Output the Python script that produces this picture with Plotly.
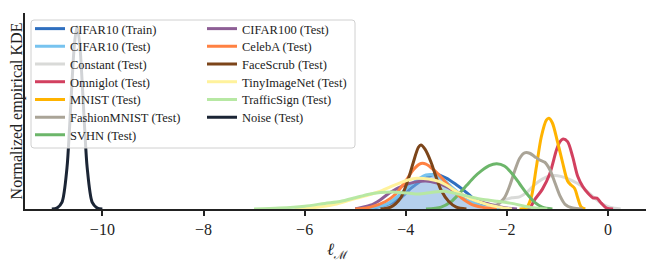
import plotly.graph_objects as go

# ---- data (y normalised so the tallest peak ~ 1) ----
cifar10_train_x = [-5.0, -4.6, -4.3, -4.1, -3.9, -3.7, -3.5, -3.42, -3.2, -3.0, -2.85, -2.7, -2.5, -2.3, -2.0]
cifar10_train_y = [0.0, 0.008, 0.03, 0.06, 0.11, 0.15, 0.18, 0.187, 0.165, 0.13, 0.10, 0.065, 0.025, 0.006, 0.0]

cifar10_test_x = [-5.0, -4.6, -4.35, -4.15, -3.95, -3.75, -3.6, -3.45, -3.3, -3.1, -2.9, -2.7, -2.5, -2.3, -2.0]
cifar10_test_y = [0.0, 0.01, 0.03, 0.07, 0.12, 0.16, 0.182, 0.183, 0.165, 0.12, 0.075, 0.04, 0.015, 0.004, 0.0]

constant_x = [-2.5, -2.3, -2.1, -1.9, -1.75, -1.6, -1.45, -1.3, -1.15, -1.0, -0.85, -0.7, -0.55, -0.4, -0.25, -0.1, 0.05, 0.25]
constant_y = [0.0, 0.02, 0.045, 0.06, 0.065, 0.09, 0.13, 0.16, 0.176, 0.178, 0.168, 0.15, 0.128, 0.09, 0.055, 0.025, 0.008, 0.0]

omniglot_x = [-1.65, -1.55, -1.45, -1.3, -1.15, -1.02, -0.95, -0.89, -0.8, -0.7, -0.6, -0.5, -0.4, -0.3, -0.22, -0.13, -0.03, 0.1]
omniglot_y = [0.0, 0.005, 0.05, 0.105, 0.19, 0.315, 0.36, 0.374, 0.36, 0.28, 0.175, 0.12, 0.085, 0.06, 0.058, 0.03, 0.005, 0.0]

mnist_x = [-1.75, -1.62, -1.52, -1.42, -1.32, -1.22, -1.17, -1.1, -1.0, -0.9, -0.8, -0.73, -0.66, -0.6, -0.53, -0.45]
mnist_y = [0.0, 0.005, 0.06, 0.22, 0.385, 0.475, 0.485, 0.46, 0.36, 0.25, 0.15, 0.128, 0.11, 0.06, 0.01, 0.0]

fashion_x = [-2.4, -2.2, -2.05, -1.95, -1.85, -1.75, -1.65, -1.55, -1.45, -1.35, -1.25, -1.15, -1.05, -0.95, -0.85, -0.7, -0.5]
fashion_y = [0.0, 0.02, 0.06, 0.12, 0.2, 0.27, 0.3, 0.298, 0.28, 0.262, 0.25, 0.21, 0.14, 0.07, 0.025, 0.005, 0.0]

svhn_x = [-3.6, -3.3, -3.1, -2.95, -2.8, -2.65, -2.5, -2.35, -2.2, -2.05, -1.9, -1.75, -1.6, -1.45, -1.3, -1.1]
svhn_y = [0.0, 0.01, 0.04, 0.08, 0.125, 0.17, 0.205, 0.232, 0.242, 0.23, 0.19, 0.135, 0.08, 0.035, 0.01, 0.0]

cifar100_x = [-5.0, -4.7, -4.5, -4.3, -4.0, -3.8, -3.6, -3.4, -3.2, -3.0, -2.8, -2.6, -2.4, -2.2, -2.0, -1.8]
cifar100_y = [0.0, 0.02, 0.05, 0.09, 0.13, 0.145, 0.15, 0.14, 0.12, 0.09, 0.065, 0.045, 0.03, 0.015, 0.005, 0.0]

celeba_x = [-5.0, -4.7, -4.4, -4.2, -4.0, -3.85, -3.7, -3.6, -3.45, -3.3, -3.1, -2.9, -2.7, -2.5, -2.2]
celeba_y = [0.0, 0.01, 0.04, 0.08, 0.15, 0.21, 0.243, 0.24, 0.21, 0.17, 0.11, 0.06, 0.025, 0.01, 0.0]

facescrub_x = [-4.5, -4.3, -4.1, -3.95, -3.85, -3.75, -3.7, -3.62, -3.5, -3.4, -3.3, -3.15, -3.0, -2.8]
facescrub_y = [0.0, 0.01, 0.06, 0.16, 0.25, 0.33, 0.342, 0.32, 0.25, 0.17, 0.10, 0.04, 0.01, 0.0]

tinyimagenet_x = [-6.2, -5.8, -5.4, -5.1, -4.8, -4.5, -4.2, -3.95, -3.78, -3.55, -3.33, -3.15, -3.0, -2.8, -2.65, -2.4, -2.15, -1.9]
tinyimagenet_y = [0.0, 0.008, 0.025, 0.048, 0.07, 0.095, 0.13, 0.155, 0.164, 0.16, 0.146, 0.12, 0.093, 0.065, 0.048, 0.025, 0.01, 0.0]

trafficsign_x = [-7.0, -6.5, -6.0, -5.6, -5.3, -5.0, -4.75, -4.5, -4.2, -3.95, -3.75, -3.5, -3.25, -3.05, -2.8, -2.5, -2.2, -1.9, -1.65, -1.4, -1.2]
trafficsign_y = [0.0, 0.005, 0.015, 0.03, 0.04, 0.06, 0.078, 0.088, 0.09, 0.085, 0.08, 0.088, 0.095, 0.085, 0.07, 0.052, 0.042, 0.03, 0.015, 0.004, 0.0]

noise_x = [-11.0, -10.9, -10.8, -10.7, -10.65, -10.6, -10.55, -10.5, -10.45, -10.4, -10.35, -10.3, -10.2, -10.1, -10.0]
noise_y = [0.0, 0.005, 0.035, 0.22, 0.43, 0.68, 0.89, 0.975, 0.89, 0.68, 0.43, 0.22, 0.035, 0.005, 0.0]

x_ticks = [-10, -8, -6, -4, -2, 0]

series = [
    ("CIFAR10 (Train)", cifar10_train_x, cifar10_train_y, "#2f6fbf"),
    ("CIFAR10 (Test)", cifar10_test_x, cifar10_test_y, "#77c3ef"),
    ("Constant (Test)", constant_x, constant_y, "#d9dad8"),
    ("Omniglot (Test)", omniglot_x, omniglot_y, "#d2405f"),
    ("MNIST (Test)", mnist_x, mnist_y, "#ffb300"),
    ("FashionMNIST (Test)", fashion_x, fashion_y, "#aaa497"),
    ("SVHN (Test)", svhn_x, svhn_y, "#6cb66a"),
    ("CIFAR100 (Test)", cifar100_x, cifar100_y, "#8d5e95"),
    ("CelebA (Test)", celeba_x, celeba_y, "#ff8142"),
    ("FaceScrub (Test)", facescrub_x, facescrub_y, "#7c451a"),
    ("TinyImageNet (Test)", tinyimagenet_x, tinyimagenet_y, "#fff29c"),
    ("TrafficSign (Test)", trafficsign_x, trafficsign_y, "#b7e8a3"),
    ("Noise (Test)", noise_x, noise_y, "#1b2535"),
]

FONT = "Liberation Serif"

# The page body adds an 8px offset; positions below are given in window px.
OFF = 8
W, H = 654 - OFF, 262 - OFF
# plot area in window px: left 25, right 650, top 13, bottom 209
ml, mr, mt, mb = 25 - OFF, 654 - 650, 13 - OFF, 262 - 209
pw, ph = W - ml - mr, H - mt - mb

def px2x(p):
    return (p - OFF - ml) / pw

def px2y(p):
    return (H - mb - (p - OFF)) / ph

fig = go.Figure()
legend_layouts = {}
legfont = dict(family=FONT, size=12.5, color="#222")
ROWS = 7
row_y0, row_dy = 30.0, 17.7     # centre of first legend row, row spacing (window px)
col_x = [30, 202]               # left of each legend column (window px)
LEG_TOP_OFFSET = 16             # legend top -> item centre

for i, (name, xs, ys, color) in enumerate(series):
    leg_id = "legend" if i == 0 else f"legend{i + 1}"
    col, row = divmod(i, ROWS)
    legend_layouts[leg_id] = dict(
        x=px2x(col_x[col]), y=px2y(row_y0 + row * row_dy - LEG_TOP_OFFSET),
        xanchor="left", yanchor="top",
        bgcolor="rgba(0,0,0,0)", borderwidth=0, font=legfont)
    if name == "CIFAR10 (Test)":
        fig.add_trace(go.Scatter(
            x=xs, y=ys, mode="lines", showlegend=False, hoverinfo="skip",
            fill="tozeroy", fillcolor="rgba(120,170,222,0.55)",
            line=dict(width=0, shape="spline", smoothing=0.8)))
    fig.add_trace(go.Scatter(
        x=xs, y=ys, mode="lines", name=name, legend=leg_id,
        line=dict(color=color, width=3, shape="spline", smoothing=0.8)))

# legend box (rounded)
bx0, bx1, by0, by1 = px2x(31), px2x(355), px2y(148), px2y(20)
rx, ry = 3 / pw, 3 / ph
path = (f"M{bx0+rx},{by1} L{bx1-rx},{by1} Q{bx1},{by1} {bx1},{by1-ry} "
        f"L{bx1},{by0+ry} Q{bx1},{by0} {bx1-rx},{by0} L{bx0+rx},{by0} "
        f"Q{bx0},{by0} {bx0},{by0+ry} L{bx0},{by1-ry} Q{bx0},{by1} {bx0+rx},{by1} Z")
fig.add_shape(type="path", path=path, xref="paper", yref="paper",
              fillcolor="rgba(255,255,255,0.8)", line=dict(color="#d0d0d0", width=1),
              layer="above")

fig.update_layout(
    width=W, height=H,
    margin=dict(l=ml, r=mr, t=mt, b=mb, autoexpand=False),
    paper_bgcolor="white", plot_bgcolor="white",
    font=dict(family=FONT, color="#222"),
    showlegend=True,
    xaxis=dict(range=[-11.53, 0.83], tickvals=x_ticks, automargin=False,
               ticks="outside", ticklen=5, tickwidth=1.5, tickcolor="#222",
               showline=True, linecolor="#222", linewidth=2,
               showgrid=False, zeroline=False,
               tickfont=dict(family=FONT, size=16, color="#222"),
               title=dict(text="<i>ℓ</i><sub>ℳ</sub>", font=dict(family=FONT, size=17), standoff=7)),
    yaxis=dict(range=[0, 1.048], showticklabels=False, ticks="", automargin=False,
               showline=True, linecolor="#222", linewidth=2,
               showgrid=False, zeroline=False,
               title=dict(text="Normalized empirical KDE", font=dict(family=FONT, size=16), standoff=0)),
    **legend_layouts,
)

fig.write_html("out.html")
